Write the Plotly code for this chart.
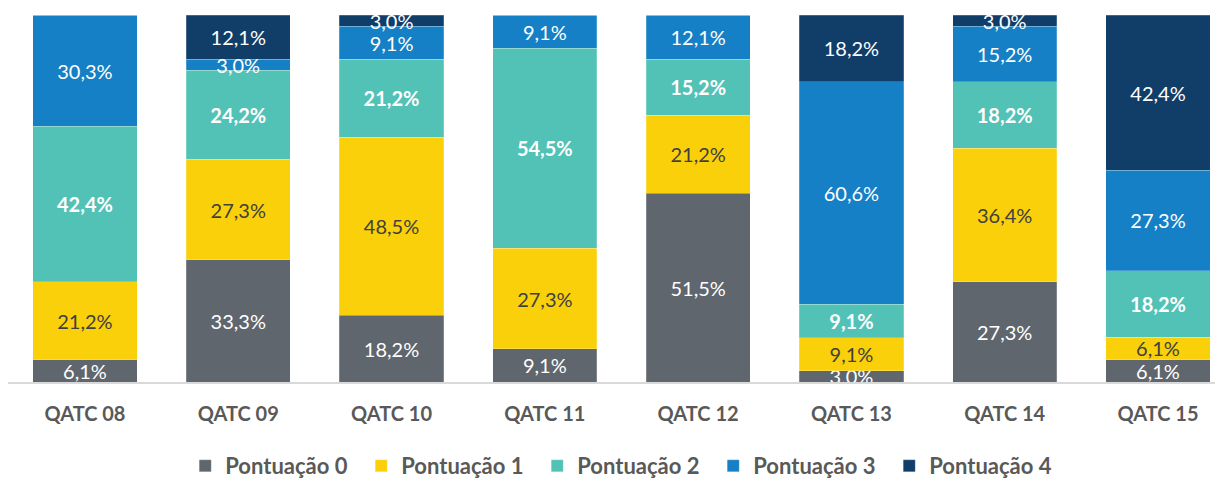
import plotly.graph_objects as go

# categories and series (percent of answers per score)
categories = ['QATC 08', 'QATC 09', 'QATC 10', 'QATC 11',
              'QATC 12', 'QATC 13', 'QATC 14', 'QATC 15']
pont_0 = [6.1, 33.3, 18.2, 9.1, 51.5, 3.0, 27.3, 6.1]
pont_1 = [21.2, 27.3, 48.5, 27.3, 21.2, 9.1, 36.4, 6.1]
pont_2 = [42.4, 24.2, 21.2, 54.5, 15.2, 9.1, 18.2, 18.2]
pont_3 = [30.3, 3.0, 9.1, 9.1, 12.1, 60.6, 15.2, 27.3]
pont_4 = [0.0, 12.1, 3.0, 0.0, 0.0, 18.2, 3.0, 42.4]
series_names = ['Pontuação 0', 'Pontuação 1', 'Pontuação 2', 'Pontuação 3', 'Pontuação 4']

colors = ['#5f666d', '#f9d00a', '#52c1b6', '#1580c5', '#113d69']
text_colors = ['white', '#404040', 'white', 'white', 'white']
bold = [False, False, True, False, False]

FONT = 'Lato, "Open Sans", sans-serif'


def fmt(v, b):
    # portuguese decimal comma, empty for zero segments
    if v == 0:
        return ''
    s = f'{v:.1f}'.replace('.', ',') + '%'
    return f'<b>{s}</b>' if b else s


fig = go.Figure()
for name, vals, c, tc, b in zip(series_names, [pont_0, pont_1, pont_2, pont_3, pont_4],
                                colors, text_colors, bold):
    fig.add_trace(go.Bar(
        x=categories,
        y=vals,
        name='<b>' + name + '</b>',
        marker=dict(color=c, line=dict(width=0.6, color='rgba(255,255,255,0.35)')),
        text=[fmt(v, b) for v in vals],
        textposition='inside',
        insidetextanchor='middle',
        textangle=0,
        textfont=dict(family=FONT, size=20, color=tc),
        hoverinfo='skip',
    ))

# the page body has an 8px margin, so the figure is a bit smaller than the window
fig.update_layout(
    barmode='stack',
    barnorm='percent',
    bargap=0.32,
    width=1215, height=470,
    margin=dict(l=0, r=0, t=7, b=96, autoexpand=False),
    plot_bgcolor='white', paper_bgcolor='white',
    uniformtext=dict(minsize=20, mode='show'),
    font=dict(family=FONT, color='#595959'),
    showlegend=True,
    legend=dict(
        orientation='h', x=0.508, xanchor='center', y=-0.229, yanchor='middle',
        font=dict(family=FONT, size=22, color='#595959', weight='bold'),
        entrywidth=131, itemwidth=30, traceorder='normal',
    ),
)
fig.update_xaxes(
    range=[-0.502, 7.424],
    showline=True, linecolor='#d9d9d9', linewidth=2,
    ticks='outside', ticklen=13, tickcolor='rgba(0,0,0,0)',
    tickfont=dict(family=FONT, size=20, color='#595959', weight='bold'),
    showgrid=False,
)
fig.update_yaxes(range=[0, 100], visible=False, showgrid=False)

fig.write_html("out.html")
